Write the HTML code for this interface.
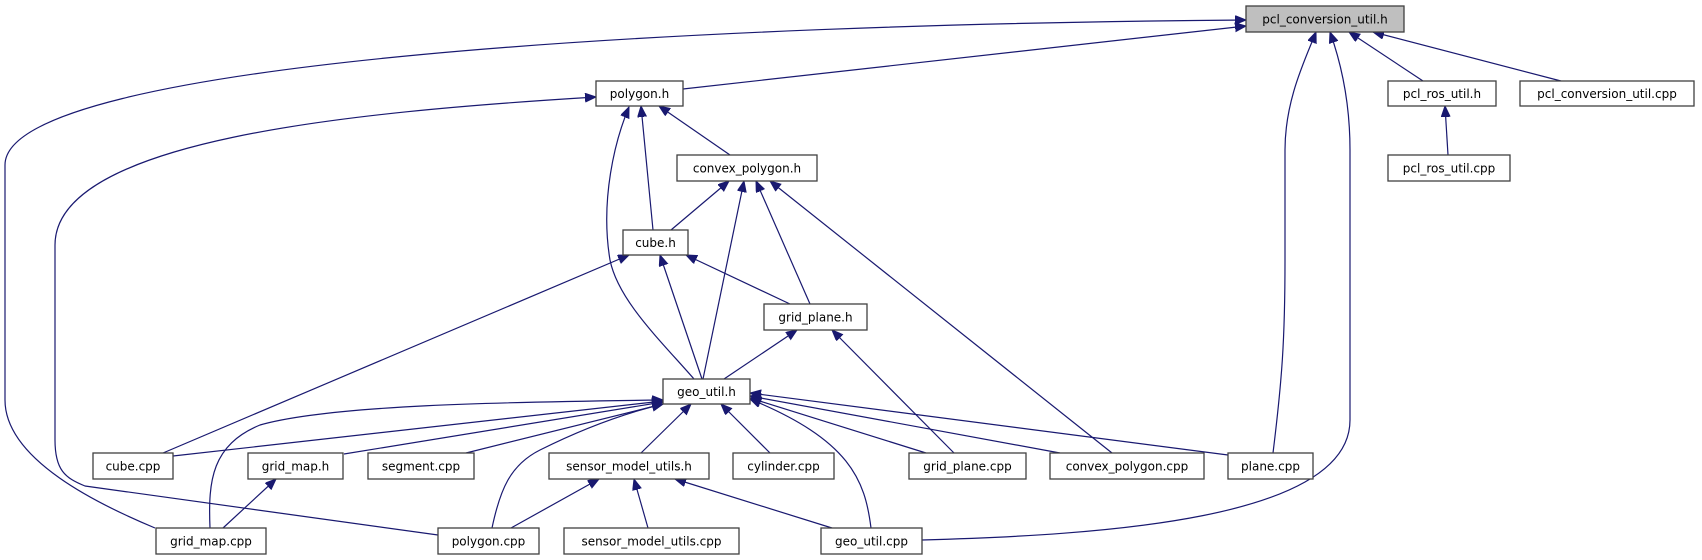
<!DOCTYPE html>
<html><head><meta charset="utf-8"><style>
html,body{margin:0;padding:0;background:#fff;}
svg{display:block;}
text{font-family:"DejaVu Sans","Liberation Sans",sans-serif;font-size:12px;fill:#000;}
.e{fill:none;stroke:#191970;stroke-width:1.2;marker-end:url(#ah);}
.n{fill:#fff;stroke:#404040;stroke-width:1.3;}
</style></head><body>
<svg width="1702" height="560" viewBox="0 0 1702 560" xmlns="http://www.w3.org/2000/svg">
<defs><marker id="ah" markerWidth="12" markerHeight="10" refX="11" refY="4.5" orient="auto" markerUnits="userSpaceOnUse"><path d="M0,0 L11,4.5 L0,9 Z" fill="#191970" stroke="#191970"/></marker></defs>

<!-- edges -->
<path class="e" d="M683,89 L1246,26"/>
<path class="e" d="M155,528 C100,505 5,460 5,400 L5,165 C5,60 700,24 1246,20"/>
<path class="e" d="M438,535 L85,486 C65,478 55,470 55,440 L55,245 C55,140 350,112 596,97"/>
<path class="e" d="M653,230 L641,106"/>
<path class="e" d="M694,379 C660,340 618,300 610,260 C600,200 615,140 629,107"/>
<path class="e" d="M730,155 L659,106"/>
<path class="e" d="M671,230 L729,181"/>
<path class="e" d="M703,379 L744,181"/>
<path class="e" d="M810,304 L756,181"/>
<path class="e" d="M1112,453 L770,181"/>
<path class="e" d="M163,453 L629,255"/>
<path class="e" d="M702,379 L660,255"/>
<path class="e" d="M790,304 L686,255"/>
<path class="e" d="M724,379 L797,330"/>
<path class="e" d="M954,453 L832,330"/>
<path class="e" d="M173,456 L663,401"/>
<path class="e" d="M344,454 L663,402"/>
<path class="e" d="M466,453 L663,404"/>
<path class="e" d="M641,453 L691,404"/>
<path class="e" d="M770,453 L721,404"/>
<path class="e" d="M492,528 C500,490 510,465 540,450 C590,425 630,412 663,404"/>
<path class="e" d="M210,528 C208,480 212,445 260,425 C330,405 500,402 663,400"/>
<path class="e" d="M926,453 L750,398"/>
<path class="e" d="M1060,453 L750,396"/>
<path class="e" d="M1228,455 L750,393"/>
<path class="e" d="M871,528 C865,480 850,440 750,399"/>
<path class="e" d="M511,528 L599,479"/>
<path class="e" d="M648,528 L634,479"/>
<path class="e" d="M832,528 L675,479"/>
<path class="e" d="M223,528 L276,479"/>
<path class="e" d="M1423,81 L1349,32"/>
<path class="e" d="M1561,81 L1373,32"/>
<path class="e" d="M1448,155 L1445,106"/>
<path class="e" d="M1273,453 C1282,380 1285,340 1285,260 L1285,150 C1285,100 1305,60 1316,32"/>
<path class="e" d="M922,540 C1100,535 1350,520 1350,420 L1350,150 C1350,100 1340,60 1330,32"/>

<!-- nodes -->
<rect x="1246" y="6" width="158" height="26" fill="#bfbfbf" stroke="#404040" stroke-width="1.3"/><text x="1325" y="23.5" text-anchor="middle">pcl_conversion_util.h</text>
<rect class="n" x="596" y="81" width="87" height="25"/><text x="639.5" y="98" text-anchor="middle">polygon.h</text>
<rect class="n" x="1388" y="81" width="108" height="25"/><text x="1442" y="98" text-anchor="middle">pcl_ros_util.h</text>
<rect class="n" x="1520" y="81" width="174" height="25"/><text x="1607" y="98" text-anchor="middle">pcl_conversion_util.cpp</text>
<rect class="n" x="677" y="155" width="140" height="26"/><text x="747" y="172.5" text-anchor="middle">convex_polygon.h</text>
<rect class="n" x="1388" y="155" width="122" height="26"/><text x="1449" y="172.5" text-anchor="middle">pcl_ros_util.cpp</text>
<rect class="n" x="623" y="230" width="65" height="25"/><text x="655.5" y="247" text-anchor="middle">cube.h</text>
<rect class="n" x="764" y="304" width="103" height="26"/><text x="815.5" y="321.5" text-anchor="middle">grid_plane.h</text>
<rect class="n" x="663" y="379" width="87" height="25"/><text x="706.5" y="396" text-anchor="middle">geo_util.h</text>
<rect class="n" x="93" y="453" width="80" height="26"/><text x="133" y="470.5" text-anchor="middle">cube.cpp</text>
<rect class="n" x="248" y="453" width="95" height="26"/><text x="295.5" y="470.5" text-anchor="middle">grid_map.h</text>
<rect class="n" x="368" y="453" width="106" height="26"/><text x="421" y="470.5" text-anchor="middle">segment.cpp</text>
<rect class="n" x="549" y="453" width="160" height="26"/><text x="629" y="470.5" text-anchor="middle">sensor_model_utils.h</text>
<rect class="n" x="733" y="453" width="101" height="26"/><text x="783.5" y="470.5" text-anchor="middle">cylinder.cpp</text>
<rect class="n" x="909" y="453" width="117" height="26"/><text x="967.5" y="470.5" text-anchor="middle">grid_plane.cpp</text>
<rect class="n" x="1050" y="453" width="154" height="26"/><text x="1127" y="470.5" text-anchor="middle">convex_polygon.cpp</text>
<rect class="n" x="1228" y="453" width="85" height="26"/><text x="1270.5" y="470.5" text-anchor="middle">plane.cpp</text>
<rect class="n" x="156" y="528" width="110" height="26"/><text x="211" y="545.5" text-anchor="middle">grid_map.cpp</text>
<rect class="n" x="438" y="528" width="101" height="26"/><text x="488.5" y="545.5" text-anchor="middle">polygon.cpp</text>
<rect class="n" x="564" y="528" width="175" height="26"/><text x="651.5" y="545.5" text-anchor="middle">sensor_model_utils.cpp</text>
<rect class="n" x="821" y="528" width="101" height="26"/><text x="871.5" y="545.5" text-anchor="middle">geo_util.cpp</text>
</svg>
</body></html>
